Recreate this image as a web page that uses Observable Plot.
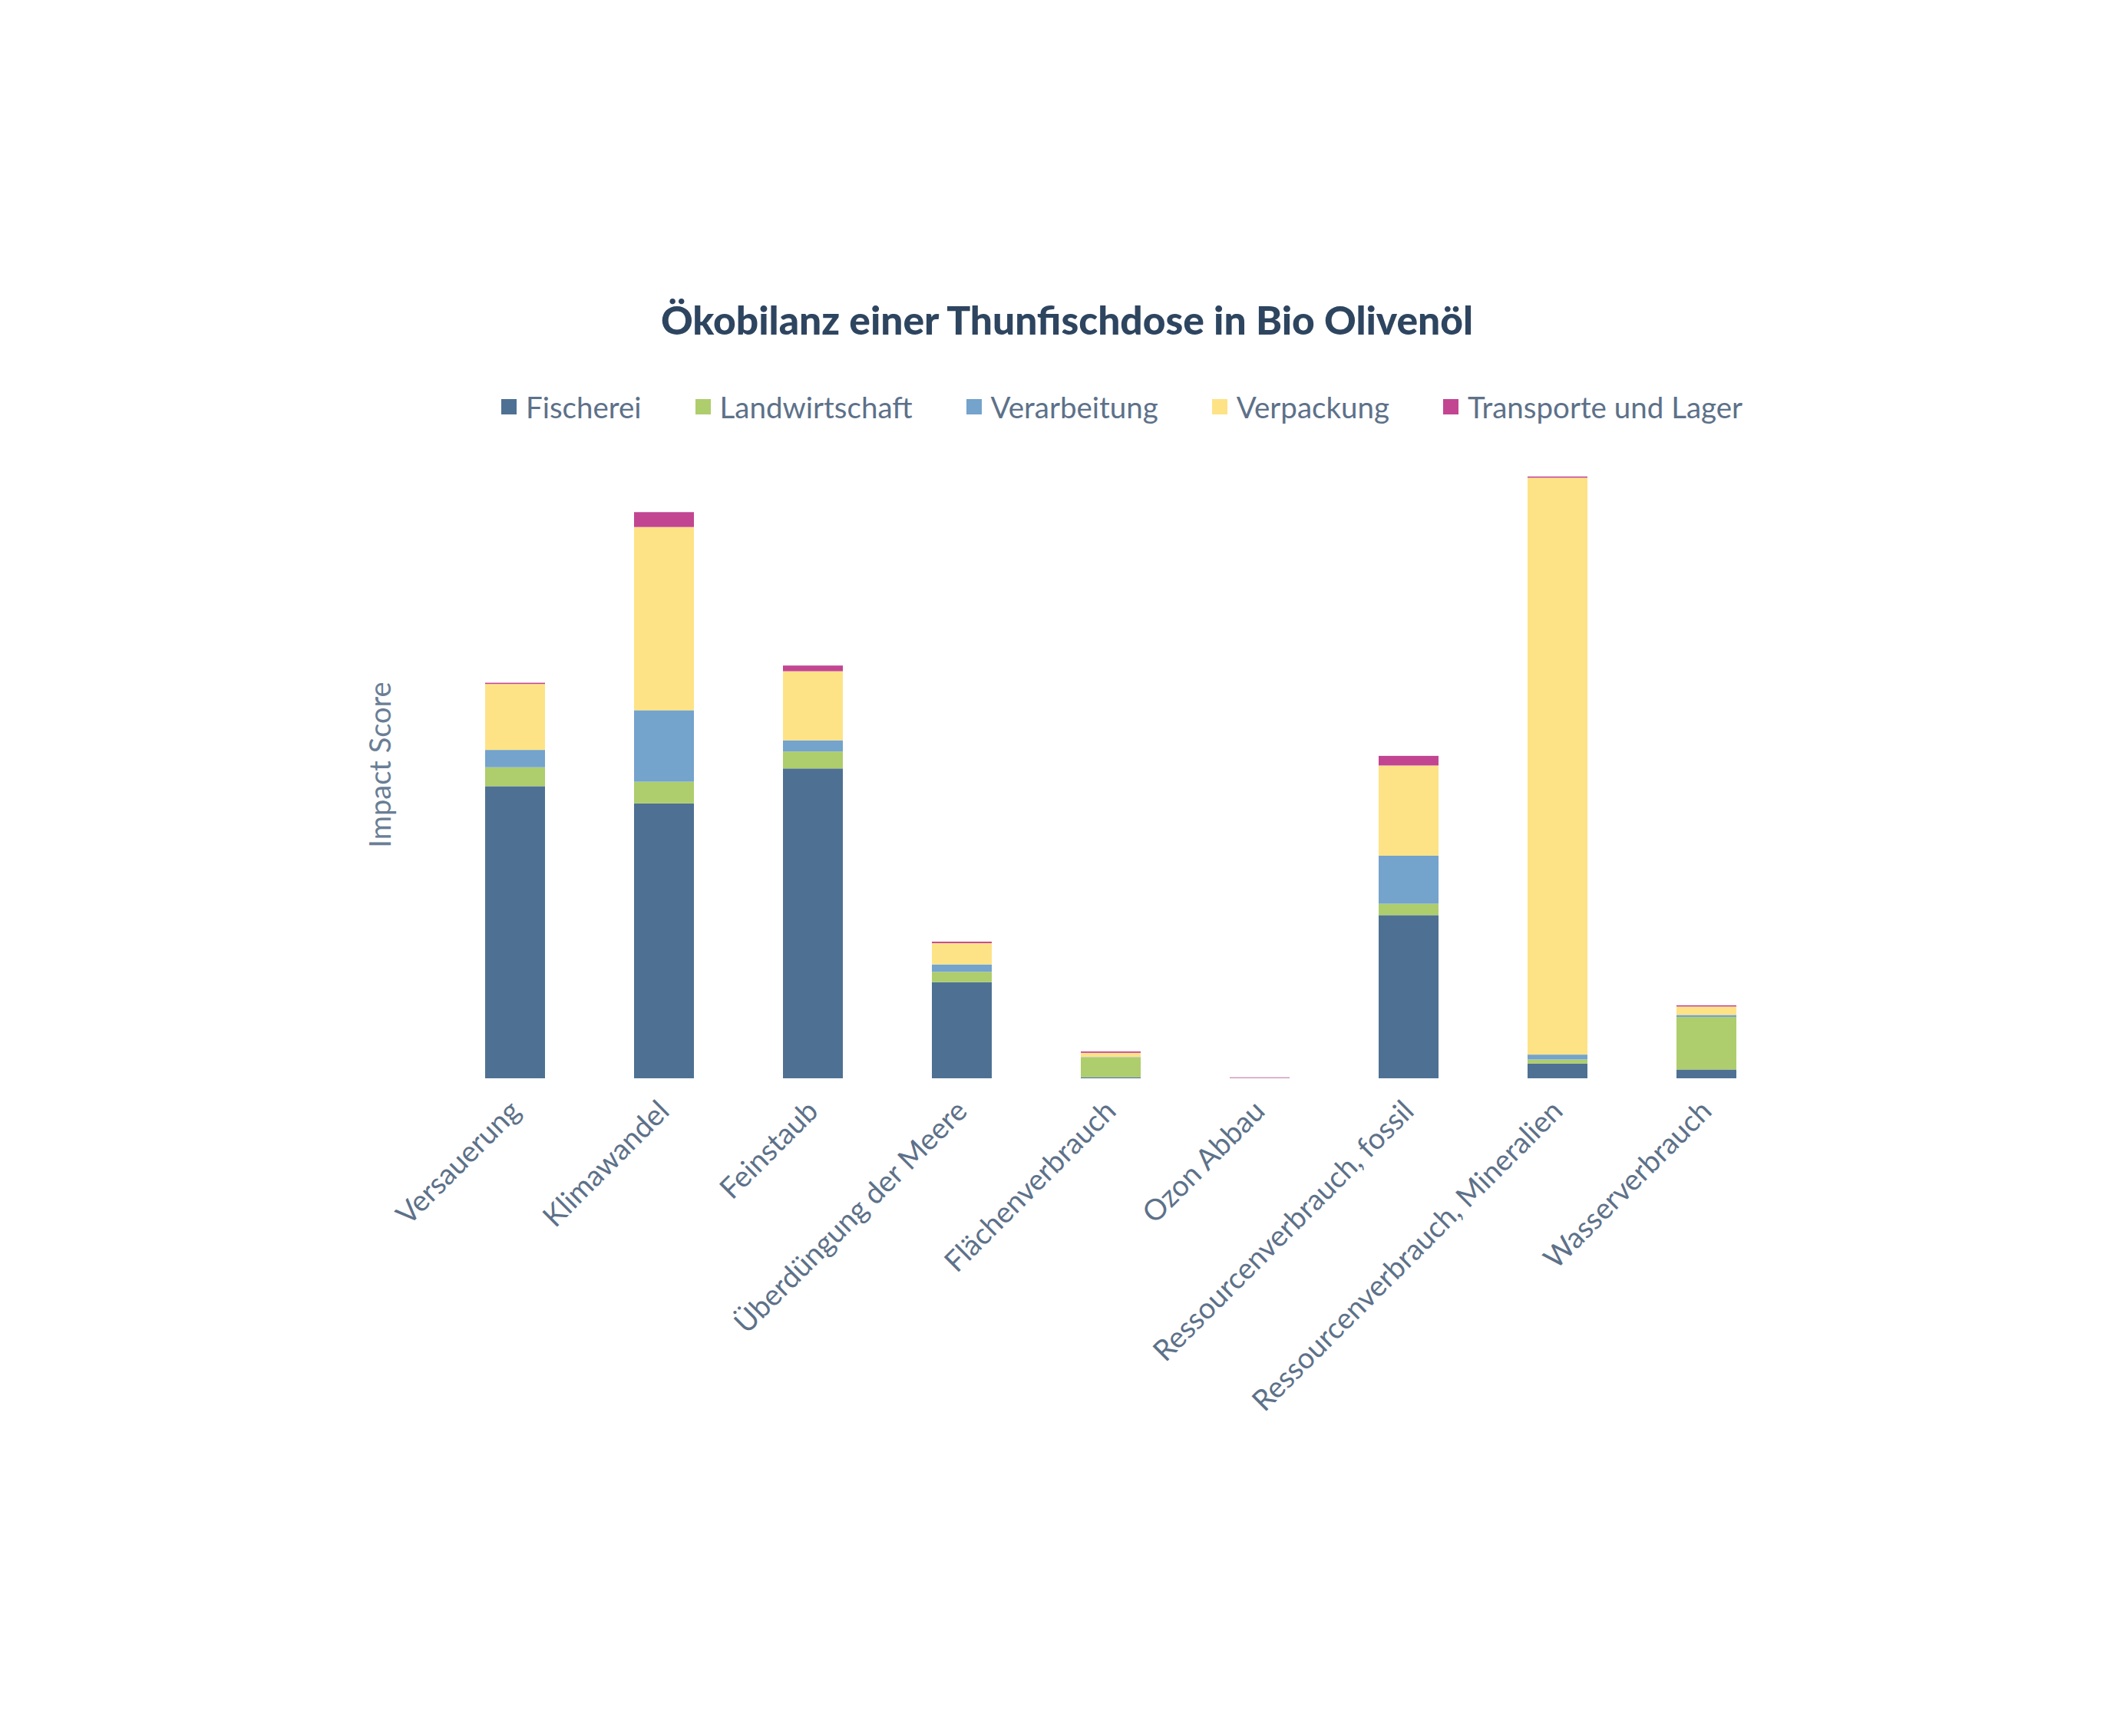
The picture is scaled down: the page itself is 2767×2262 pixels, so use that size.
<!DOCTYPE html>
<html><head><meta charset="utf-8">
<script src="https://cdn.jsdelivr.net/npm/d3@7"></script>
<script src="https://cdn.jsdelivr.net/npm/@observablehq/plot@0.6"></script>
<style>
html,body{margin:0;padding:0;background:#fff;}
body{width:2767px;height:2262px;position:relative;overflow:hidden;font-family:Lato,"Open Sans",sans-serif;}
#title{position:absolute;top:390px;left:1390px;transform:translateX(-50%);white-space:nowrap;font-size:51.5px;font-weight:900;color:#2e4560;line-height:52px;}
#legend{position:absolute;top:511px;left:653px;display:flex;align-items:center;font-size:38.5px;color:#5d7189;line-height:38px;white-space:nowrap}
.item{display:flex;align-items:center;margin-right:70px}
.sw{width:20px;height:20px;margin-right:12px}
#chart{position:absolute;top:560px;left:0}
</style></head><body>
<div id="title"></div><div id="legend"></div><div id="chart"></div>
<script>
const titleText = "Ökobilanz einer Thunfischdose in Bio Olivenöl";
const yLabel = "Impact Score";
const categories = ["Versauerung","Klimawandel","Feinstaub","Überdüngung der Meere","Flächenverbrauch","Ozon Abbau","Ressourcenverbrauch, fossil","Ressourcenverbrauch, Mineralien","Wasserverbrauch"];
const stages = ["Fischerei","Landwirtschaft","Verarbeitung","Verpackung","Transporte und Lager"];
const colors = ["#4e7193","#aecd6c","#74a3cc","#fee386","#c24592"];
const fischerei      = [215.7, 203.0, 228.8, 71.0, 0.8, 0.1, 120.5, 10.9, 6.5];
const landwirtschaft = [14.0, 16.0, 12.5, 7.6, 14.6, 0.05, 8.4, 3.0, 38.8];
const verarbeitung   = [12.8, 52.8, 8.3, 5.5, 0.3, 0.05, 35.5, 3.6, 1.5];
const verpackung     = [48.7, 135.3, 51.0, 15.7, 3.1, 0.1, 66.6, 426.0, 6.2];
const transporte     = [0.9, 11.0, 4.2, 1.1, 1.0, 0.4, 7.1, 0.9, 0.9];

const seriesValues = [fischerei, landwirtschaft, verarbeitung, verpackung, transporte];
const data = [];
stages.forEach((s, j) => categories.forEach((c, i) => data.push({category: c, stage: s, value: seriesValues[j][i]})));

document.getElementById("title").textContent = titleText;
const leg = document.getElementById("legend");
stages.forEach((s, j) => {
  const it = document.createElement("div"); it.className = "item";
  const sw = document.createElement("div"); sw.className = "sw"; sw.style.background = colors[j];
  const tx = document.createElement("span"); tx.textContent = s;
  it.appendChild(sw); it.appendChild(tx); leg.appendChild(it);
});

const plot = Plot.plot({
  width: 2767, height: 1400,
  marginLeft: 514, marginRight: 388, marginTop: 51, marginBottom: 555,
  style: {fontFamily: "Lato, 'Open Sans', sans-serif", fontSize: "38px", color: "#5d7189", background: "transparent", overflow: "visible"},
  x: {domain: categories, padding: 0.6, label: null},
  y: {domain: [0, 450], axis: null},
  color: {domain: stages, range: colors},
  marks: [
    Plot.barY(data, {x: "category", y: "value", fill: "stage"}),
    Plot.axisX({tickRotate: -45, tickSize: 0, tickPadding: 36, fontSize: 38, label: null, fill: "#5d7189"}),
    Plot.text([yLabel], {text: d => d, frameAnchor: "left", textAnchor: "middle", rotate: -90, dx: -18, dy: -12, fontSize: 38, fill: "#6a7e95"})
  ]
});
document.getElementById("chart").appendChild(plot);
</script>
</body></html>
